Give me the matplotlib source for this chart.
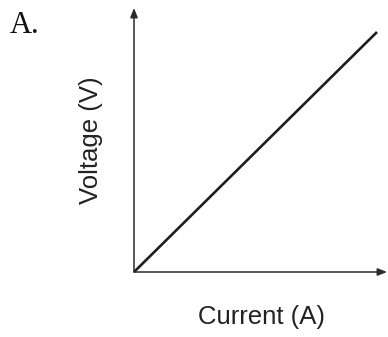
import matplotlib.pyplot as plt

current = [0, 10]
voltage = [0, 10]
panel_label = "A."
x_label = "Current (A)"
y_label = "Voltage (V)"

fig = plt.figure(figsize=(3.88, 3.37), dpi=100)
W, H = 388, 337
# axes spans from origin pixel (134, 272) to arrow tips (387, 8)
ax = fig.add_axes([134 / W, (H - 272) / H, (387 - 134) / W, (272 - 8) / H])
ax.set_xlim(0, 10 * 253 / 243)
ax.set_ylim(0, 10 * 264 / 240)
ax.axis("off")

ax.plot(current, voltage, color="#1e1e1e", lw=1.9, solid_capstyle="butt", clip_on=False)

# axes with arrow heads
arrow = dict(arrowstyle="-|>,head_length=0.55,head_width=0.22", color="#2a2a2a", lw=1.1,
             shrinkA=0, shrinkB=0)
ax.annotate("", xy=(1, 0), xytext=(0, 0), xycoords="axes fraction", arrowprops=arrow)
ax.annotate("", xy=(0, 1), xytext=(0, 0), xycoords="axes fraction", arrowprops=arrow)

fig.text(10 / W, 1 - 33 / H, panel_label, family="Liberation Serif", fontsize=22,
         color="#111111", ha="left", va="baseline")
fig.text(261 / W, 1 - 317 / H, x_label, family="Liberation Sans", fontsize=18.5,
         color="#222222", ha="center", va="center")
fig.text(91 / W, 1 - 140 / H, y_label, family="Liberation Sans", fontsize=18.5,
         color="#222222", ha="center", va="center", rotation=90)

fig.savefig("out.png", dpi=100)
